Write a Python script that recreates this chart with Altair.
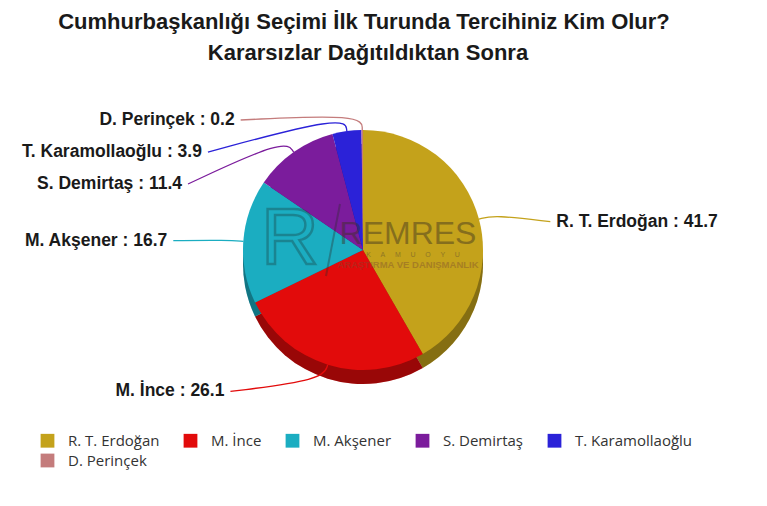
import math
import altair as alt
import pandas as pd

# ---- data ----
names = ["R. T. Erdoğan", "M. İnce", "M. Akşener", "S. Demirtaş", "T. Karamollaoğlu", "D. Perinçek"]
values = [41.7, 26.1, 16.7, 11.4, 3.9, 0.2]
colors = ["#C4A21B", "#E20B0B", "#1BADC1", "#7B1C9C", "#2B22D8", "#C47C7C"]

title1 = "Cumhurbaşkanlığı Seçimi İlk Turunda Tercihiniz Kim Olur?"
title2 = "Kararsızlar Dağıtıldıktan Sonra"

# ---- layout (plot-area pixels) ----
W, H = 751, 490
CX, CY = 355, 242
R = 120
DEPTH = 14
LX, LY_TOP, LY_BOTTOM = 196, 172, 200
LR_TOP, LR_BOTTOM, LR_RIGHT = 130, 148, 110
GAP = 32

total = sum(values)
slices = pd.DataFrame({"name": names, "value": values, "idx": list(range(len(names)))})

# label placement derived from slice angles
info = []
cum = 0.0
for n, v in zip(names, values):
    a = (cum + v / 2) / total * 2 * math.pi
    cum += v
    side = 1 if math.sin(a) > 0.001 else -1
    c = math.cos(a)
    lr = LR_RIGHT if side > 0 else (LR_TOP if c >= 0 else LR_BOTTOM)
    info.append({"name": n, "value": v, "a": a, "side": side, "ly": lr * c})
for s in (1, -1):
    grp = sorted([d for d in info if d["side"] == s], key=lambda d: -d["ly"])
    prev = None
    for d in grp:
        if prev is not None and d["ly"] > prev - GAP:
            d["ly"] = prev - GAP
        prev = d["ly"]
for d in info:
    ly_r = LY_TOP if d["ly"] >= 0 else LY_BOTTOM
    d["lx"] = d["side"] * LX * math.sqrt(max(0.0, 1 - (d["ly"] / ly_r) ** 2))

labels = pd.DataFrame({
    "name": [d["name"] for d in info],
    "label": [f"{d['name']} : {d['value']}" for d in info],
    "lx": [d["lx"] for d in info],
    "ly": [d["ly"] for d in info],
    "side": [d["side"] for d in info],
})

pts = []
for d in info:
    a, s = d["a"], d["side"]
    pts.append({"name": d["name"], "k": 0, "px": R * math.sin(a), "py": R * math.cos(a)})
    pts.append({"name": d["name"], "k": 1, "px": (R + 16) * math.sin(a), "py": (R + 16) * math.cos(a)})
    pts.append({"name": d["name"], "k": 2, "px": d["lx"] - s * 6, "py": d["ly"]})
lines = pd.DataFrame(pts)

xs = alt.Scale(domain=[-CX, W - CX], nice=False, zero=False)
ys = alt.Scale(domain=[CY - H, CY], nice=False, zero=False)

color = alt.Color(
    "name:N",
    scale=alt.Scale(domain=names, range=colors),
    sort=names,
    legend=alt.Legend(
        title=None, orient="none", legendX=32, legendY=425, direction="horizontal",
        columns=5, symbolType="square", symbolSize=190, symbolStrokeWidth=0,
        labelFont="Open Sans", labelFontSize=15, labelColor="#333333",
        labelOffset=13, columnPadding=23, rowPadding=4, labelLimit=300,
    ),
)

base = alt.Chart(slices).encode(
    theta=alt.Theta("value:Q", stack=True),
    color=color,
    order=alt.Order("idx:Q"),
)
depth = base.mark_arc(outerRadius=R, x=CX, y=CY + DEPTH)
shade = alt.Chart(slices).mark_arc(
    outerRadius=R, x=CX, y=CY + DEPTH, fill="black", opacity=0.32
).encode(theta=alt.Theta("value:Q", stack=True), order=alt.Order("idx:Q"))
pie = base.mark_arc(outerRadius=R, x=CX, y=CY)

leader = alt.Chart(lines).mark_line(interpolate="basis", strokeWidth=1.3).encode(
    x=alt.X("px:Q", scale=xs, axis=None),
    y=alt.Y("py:Q", scale=ys, axis=None),
    color=alt.Color("name:N", scale=alt.Scale(domain=names, range=colors), legend=None),
    detail="name:N",
    order=alt.Order("k:Q"),
)

lab_common = dict(font="Liberation Sans", fontSize=17.5, fontWeight="bold", color="#1a1a1a", baseline="middle")
lab_enc = dict(
    x=alt.X("lx:Q", scale=xs, axis=None),
    y=alt.Y("ly:Q", scale=ys, axis=None),
    text="label:N",
)
lab_right = alt.Chart(labels).transform_filter("datum.side > 0").mark_text(align="left", **lab_common).encode(**lab_enc)
lab_left = alt.Chart(labels).transform_filter("datum.side < 0").mark_text(align="right", **lab_common).encode(**lab_enc)

def txt(t, x, y, **kw):
    return alt.Chart(pd.DataFrame({"t": [t]})).mark_text(**kw).encode(
        text="t:N", x=alt.value(x), y=alt.value(y)
    )

tstyle = dict(font="Liberation Sans", fontSize=22, fontWeight="bold", color="#1a1a1a", align="center", baseline="middle")
t1 = txt(title1, 356, 14, **tstyle)
t2 = txt(title2, 360, 45, **tstyle)

NB = "\u00a0" * 5
wm1 = txt("REMRES", 400, 226, font="Liberation Sans", fontSize=32, color="#3a3020", opacity=0.45,
          align="center", baseline="middle")
wm2 = txt(NB.join("KAMUOYU"), 405, 247, font="Liberation Sans", fontSize=7,
          color="#5a4a30", opacity=0.5, align="center", baseline="middle")
wm3 = txt("ARAŞTIRMA VE DANIŞMANLIK", 400, 257, font="Liberation Sans", fontSize=9.5, fontWeight="bold",
          color="#7a4a30", opacity=0.4, align="center", baseline="middle")
wm4 = txt("R", 282, 232, font="Liberation Sans", fontSize=80, fill="#000000", fillOpacity=0,
          stroke="#1a3a3a", strokeOpacity=0.35, strokeWidth=2.5, align="center", baseline="middle")
slash = alt.Chart(pd.DataFrame({"t": [0]})).mark_rule(strokeWidth=2, color="#2a2a2a", opacity=0.35).encode(
    x=alt.value(318), x2=alt.value(332), y=alt.value(268), y2=alt.value(196)
)

chart = alt.layer(
    depth, shade, pie, leader, lab_right, lab_left, wm4, slash, wm1, wm2, wm3, t1, t2
).properties(
    width=W, height=H, padding=0, autosize="none"
).configure_view(stroke=None)

chart.save("out.html", embed_options={"renderer": "svg", "actions": False})
